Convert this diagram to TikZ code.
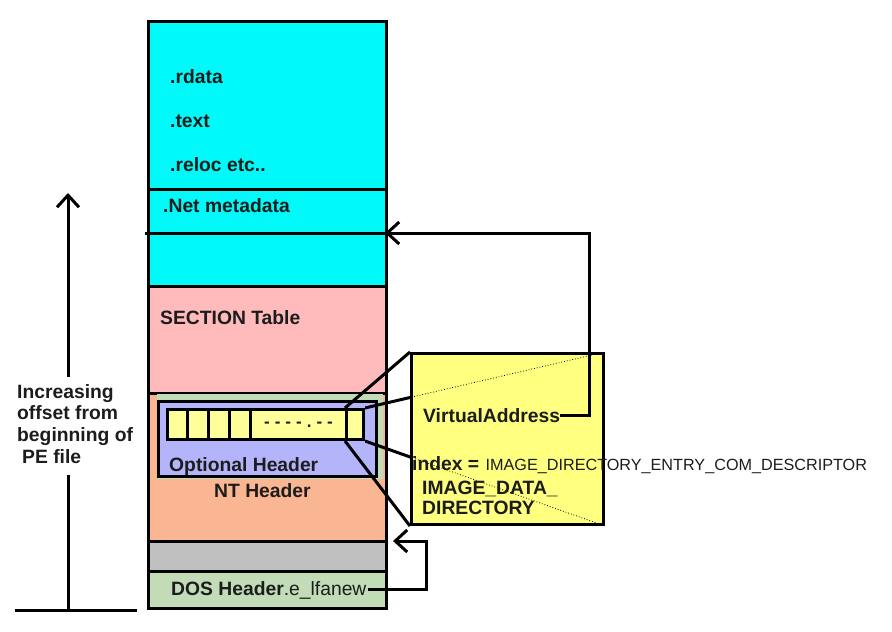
\documentclass[tikz,border=0pt]{standalone}
\usepackage{fontspec}
\setmainfont{Liberation Sans}
\usetikzlibrary{arrows.meta,positioning}

\definecolor{secfill}{HTML}{00FAFA}
\definecolor{tablefill}{HTML}{FFBBBB}
\definecolor{ntfill}{HTML}{FAB592}
\definecolor{gapfill}{HTML}{C0C0C0}
\definecolor{dosfill}{HTML}{C2DCB8}
\definecolor{optfill}{HTML}{B4B4FA}
\definecolor{cellfill}{HTML}{FFFF99}
\definecolor{dirfill}{HTML}{FFFF80}
\definecolor{inkgray}{HTML}{1C1C1C}

\begin{document}
\begin{tikzpicture}[
  x=1pt, y=-1pt,
  >={Straight Barb[length=12pt,width=22pt]},
  every node/.style={font=\fontsize{19.3}{21.7}\selectfont\bfseries, text=inkgray},
  layer/.style={rectangle, draw, line width=3pt, anchor=north west,
                inner sep=0pt, minimum width=238pt},
  cell/.style={rectangle, draw, line width=3pt, fill=cellfill,
               anchor=north west, inner sep=0pt, minimum height=30pt},
  lbl/.style={anchor=base west, inner sep=0pt},
  link/.style={line width=3pt}
]

\useasboundingbox (0,0) rectangle (892,632);

% layers of the PE file
\node[layer, fill=secfill,   minimum height=265pt] (sect)  at (147,20)  {};
\node[layer, fill=tablefill, minimum height=107pt] (table) at (147,285) {};
\node[layer, fill=ntfill,    minimum height=148pt] (nt)    at (147,392) {};
\node[layer, fill=gapfill,   minimum height=30pt]  (gap)   at (147,540) {};
\node[layer, fill=dosfill,   minimum height=37pt]  (dos)   at (147,570) {};

\draw[link] (147,189) -- (385,189);
\draw[link] (145,233) -- (385,233);

\node[lbl] at (170,83)  {.rdata};
\node[lbl] at (170,127) {.text};
\node[lbl] at (170,171) {.reloc etc..};
\node[lbl] at (163,212) {.Net metadata};
\node[lbl] at (160,324) {SECTION Table};

% optional header with its data directories
\fill[dosfill] (157,394) rectangle (383,479);
\node[layer, fill=optfill, minimum width=218pt, minimum height=75pt] (opt) at (157,400) {};

\node[cell, minimum width=21pt] (c1) at (166,408) {};
\node[cell, minimum width=21pt] (c2) at (186,408) {};
\node[cell, minimum width=21pt] (c3) at (207,408) {};
\node[cell, minimum width=21pt] (c4) at (228,408) {};
\node[cell, minimum width=96pt, font=\fontsize{17}{17}\selectfont\bfseries] (c5) at (249,408)
     {-\hspace{5pt}-\hspace{5pt}-\hspace{5pt}-\hspace{5pt}.\hspace{5pt}-\hspace{5pt}-};
\node[cell, minimum width=17pt] (c6) at (345,408) {};

\node[lbl] at (169,471) {Optional Header};
\node[lbl] at (214,497) {NT Header};
\node[lbl, inner sep=1pt] (lfa) at (170,595) {DOS Header{\mdseries.e\_lfanew}};

% zoomed directory entry
\node[layer, fill=dirfill, minimum width=192pt, minimum height=171pt] (dir) at (410,352) {};

\draw[link] (c6.north west) -- (dir.north west);
\draw[link] (c6.south west) -- (dir.south west);
\begin{scope}
  \clip (c6.east |- dir.north) rectangle (dir.south west);
  \draw[link] (c6.north east) -- (dir.north east);
  \draw[link] (c6.south east) -- (dir.south east);
\end{scope}
\draw[dotted, line width=0.8pt] (c6.north east) -- (dir.north east);
\draw[dotted, line width=0.8pt] (c6.south east) -- (dir.south east);

\node[lbl] (va)  at (423,422) {VirtualAddress};
\node[lbl] (idx) at (412,470) {index =};
\node[lbl, xshift=6pt, font=\fontsize{16.2}{18}\selectfont] (comdesc) at (idx.base east)
     {IMAGE\_DIRECTORY\_ENTRY\_COM\_DESCRIPTOR};
\node[lbl] (dtype) at (422,494) {IMAGE\_DATA\_};
\node[lbl] (dname) at (422,514) {DIRECTORY};

% pointers
\coordinate (meta)   at (385,233);
\coordinate (vaturn) at (589,233);
\draw[link, ->] (va.east) -| (vaturn) -- (meta);

\coordinate (ntin)   at (393,541);
\coordinate (ntturn) at (426,541);
\draw[link, ->] (lfa.east) -| (ntturn) -- (ntin);

% offset axis
\node[anchor=north west, inner sep=0pt, align=left] (incr) at (17,384)
     {Increasing\\offset from\\beginning of\\\hspace{5pt}PE file};
\coordinate (ground)  at (68,610);
\coordinate (gaplow)  at (68,475);
\coordinate (gaphigh) at (68,377);
\coordinate (top)     at (68,193);
\draw[link] (ground) -- (gaplow);
\draw[link, ->] (gaphigh) -- (top);
\draw[link] (15,610) -- (137,610);

\end{tikzpicture}
\end{document}
